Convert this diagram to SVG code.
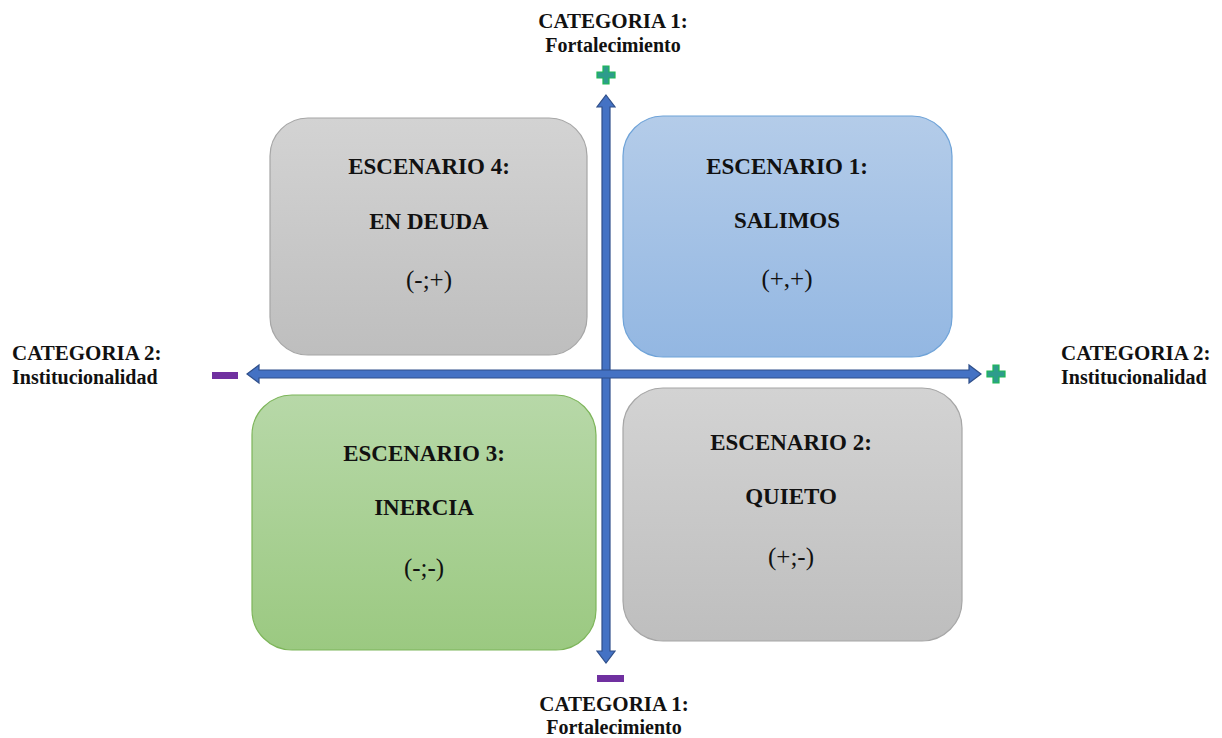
<svg xmlns="http://www.w3.org/2000/svg" width="1222" height="738" viewBox="0 0 1222 738">
<defs>
<linearGradient id="gGrey" x1="0" y1="0" x2="0" y2="1"><stop offset="0" stop-color="#D3D3D3"/><stop offset="1" stop-color="#BEBEBE"/></linearGradient>
<linearGradient id="gBlue" x1="0" y1="0" x2="0" y2="1"><stop offset="0" stop-color="#B4CCE9"/><stop offset="1" stop-color="#93B7E2"/></linearGradient>
<linearGradient id="gGreen" x1="0" y1="0" x2="0" y2="1"><stop offset="0" stop-color="#B7D8A8"/><stop offset="1" stop-color="#9BC981"/></linearGradient>
</defs>
<style>
text{font-family:"Liberation Serif","Times New Roman",serif;fill:#111;text-anchor:middle;font-weight:bold}
.cat{font-size:21px}
.sub{font-size:20px}
.t{font-size:23px}
.p{font-size:25px;font-weight:normal}
.grey{fill:url(#gGrey);stroke:#A6A6A6;stroke-width:1.2}
.blue{fill:url(#gBlue);stroke:#6FA3D8;stroke-width:1.2}
.green{fill:url(#gGreen);stroke:#7DB55A;stroke-width:1.2}
.arrow{fill:#4472C4;stroke:#2F4F8A;stroke-width:1.2}
.plus{fill:#2E9C8C;stroke:#1DB954;stroke-width:1.2}
.minus{fill:#7030A0}
</style>
<g id="node-esc4">
<rect class="grey" x="270" y="118" width="317" height="237" rx="38"/>
<text class="t" x="429" y="174">ESCENARIO 4:</text>
<text class="t" x="429" y="229">EN DEUDA</text>
<text class="p" x="429" y="288">(-;+)</text>
</g>
<g id="node-esc1">
<rect class="blue" x="623" y="116" width="329" height="241" rx="40"/>
<text class="t" x="787" y="174">ESCENARIO 1:</text>
<text class="t" x="787" y="228">SALIMOS</text>
<text class="p" x="787" y="287">(+,+)</text>
</g>
<g id="node-esc3">
<rect class="green" x="252" y="395" width="344" height="255" rx="40"/>
<text class="t" x="424" y="461">ESCENARIO 3:</text>
<text class="t" x="424" y="515">INERCIA</text>
<text class="p" x="424" y="576">(-;-)</text>
</g>
<g id="node-esc2">
<rect class="grey" x="623" y="388" width="339" height="253" rx="40"/>
<text class="t" x="791" y="450">ESCENARIO 2:</text>
<text class="t" x="791" y="504">QUIETO</text>
<text class="p" x="791" y="565">(+;-)</text>
</g>
<g id="connectors">
<path class="arrow" d="M606,95 L615,107 L610,107 L610,651 L615,651 L606,663 L597,651 L602,651 L602,107 L597,107 Z"/>
<path class="arrow" d="M247,374 L259,365 L259,370 L969,370 L969,365 L981,374 L969,383 L969,378 L259,378 L259,383 Z"/>
</g>
<g id="signs">
<path class="plus" d="M603,66 h6 v6 h6 v6 h-6 v6 h-6 v-6 h-6 v-6 h6 Z"/>
<path class="plus" d="M993,365 h6 v6 h6 v6 h-6 v6 h-6 v-6 h-6 v-6 h6 Z"/>
<rect class="minus" x="212" y="372" width="26" height="7"/>
<rect class="minus" x="597" y="675" width="27" height="7"/>
</g>
<g id="label-top">
<text class="cat" x="613" y="28">CATEGORIA 1:</text>
<text class="sub" x="613" y="52">Fortalecimiento</text>
</g>
<g id="label-left">
<text class="cat" x="12" y="360" style="text-anchor:start">CATEGORIA 2:</text>
<text class="sub" x="12" y="384" style="text-anchor:start">Institucionalidad</text>
</g>
<g id="label-right">
<text class="cat" x="1061" y="360" style="text-anchor:start">CATEGORIA 2:</text>
<text class="sub" x="1061" y="384" style="text-anchor:start">Institucionalidad</text>
</g>
<g id="label-bottom">
<text class="cat" x="614" y="711">CATEGORIA 1:</text>
<text class="sub" x="614" y="734">Fortalecimiento</text>
</g>
</svg>
